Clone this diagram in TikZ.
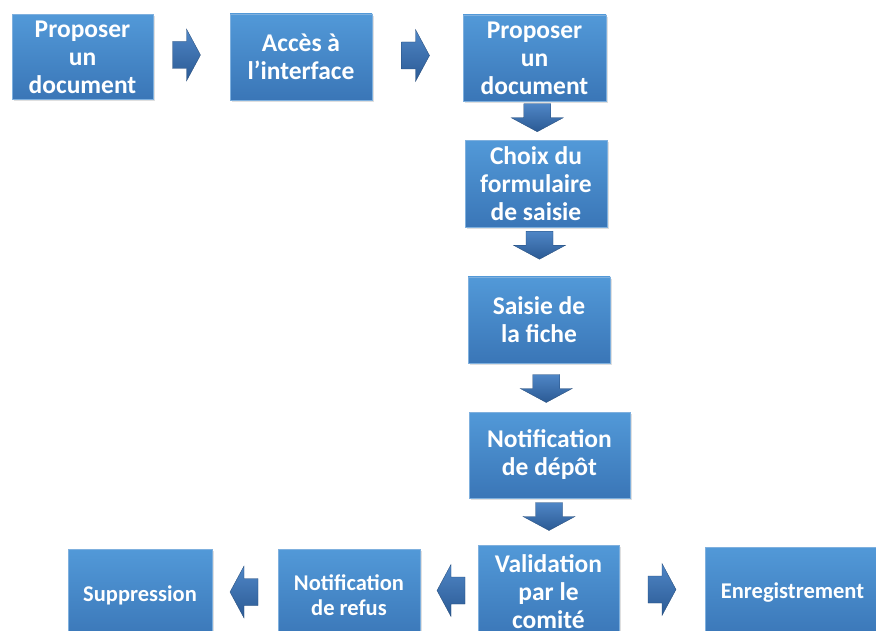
\documentclass[tikz,border=0pt]{standalone}
\usepackage{fontspec}
\setmainfont{Carlito}
\usetikzlibrary{calc,shadows}
\definecolor{boxtop}{HTML}{5299D8}
\definecolor{boxbot}{HTML}{3A76B7}
\definecolor{boxline}{HTML}{7FB0DE}
\definecolor{arrtop}{HTML}{4F86C6}
\definecolor{arrbot}{HTML}{2B5A94}
\tikzset{
  stepbox/.style={draw=boxline, line width=0.8pt, top color=boxtop, bottom color=boxbot,
    text=white, font=\fontsize{25.5}{28}\selectfont\bfseries, align=center,
    inner sep=0pt, drop shadow={opacity=0.25, shadow xshift=1.5pt, shadow yshift=-2pt}},
  smallbox/.style={stepbox, font=\fontsize{22.5}{25}\selectfont\bfseries},
  blockarrow/.pic={
    \shade[top color=arrtop, bottom color=arrbot, draw=arrbot!80!black, line width=0.3pt]
      (-14,-13.5) -- (0,-13.5) -- (0,-26) -- (14,0) -- (0,26) -- (0,13.5) -- (-14,13.5) -- cycle;
  }
}
\begin{document}
\begin{tikzpicture}[x=1pt,y=-1pt]
\useasboundingbox (0,0) rectangle (876,631);
\clip (0,0) rectangle (876,631);
\node[stepbox, minimum width=141pt, minimum height=85pt] (b1) at (82.5,57) {Proposer\\un\\document};
\node[stepbox, minimum width=142pt, minimum height=86pt] (b2) at (301,57) {Accès à\\l’interface};
\node[stepbox, minimum width=143pt, minimum height=86pt] (b3) at (534.5,58) {Proposer\\un\\document};
\node[stepbox, minimum width=142pt, minimum height=87pt] (b4) at (536,184) {Choix du\\formulaire\\de saisie};
\node[stepbox, minimum width=142pt, minimum height=86pt] (b5) at (539,320) {Saisie de\\la fiche};
\node[stepbox, minimum width=161pt, minimum height=86pt] (b6) at (549.5,455) {Notification\\de dépôt};
\node[stepbox, minimum width=141pt, minimum height=94pt] (b7) at (548.5,592) {Validation\\par le\\comité};
\node[smallbox, minimum width=142pt, minimum height=92pt] (b8) at (349,595) {Notification\\de refus};
\node[smallbox, minimum width=144pt, minimum height=92pt] (b9) at (140,595) {Suppression};
\node[smallbox, minimum width=175pt, minimum height=92pt] (b10) at (792.5,593) {Enregistrement};
% arrows
\coordinate (a1) at ($(b1.east)!0.5!(b2.west)+(-5,-2)$);
\coordinate (a2) at ($(b2.east)!0.5!(b3.west)+(-2,-2)$);
\coordinate (a3) at ($(b3.south)!0.5!(b4.north)+(2,-3)$);
\coordinate (a4) at ($(b4.south)!0.5!(b5.north)+(2,-7)$);
\coordinate (a5) at ($(b5.south)!0.5!(b6.north)+(2,1)$);
\coordinate (a6) at ($(b6.south)!0.5!(b7.north)+(0,-5)$);
\coordinate (a7) at ($(b7.west)!0.5!(b8.east)+(2,-3)$);
\coordinate (a8) at ($(b8.west)!0.5!(b9.east)+(-1,-3)$);
\coordinate (a9) at ($(b7.east)!0.5!(b10.west)+(0,-3)$);
\pic at (a1) {blockarrow};
\pic at (a2) {blockarrow};
\pic[rotate=-90] at (a3) {blockarrow};
\pic[rotate=-90] at (a4) {blockarrow};
\pic[rotate=-90] at (a5) {blockarrow};
\pic[rotate=-90] at (a6) {blockarrow};
\pic[rotate=180] at (a7) {blockarrow};
\pic[rotate=180] at (a8) {blockarrow};
\pic at (a9) {blockarrow};
\end{tikzpicture}
\end{document}
